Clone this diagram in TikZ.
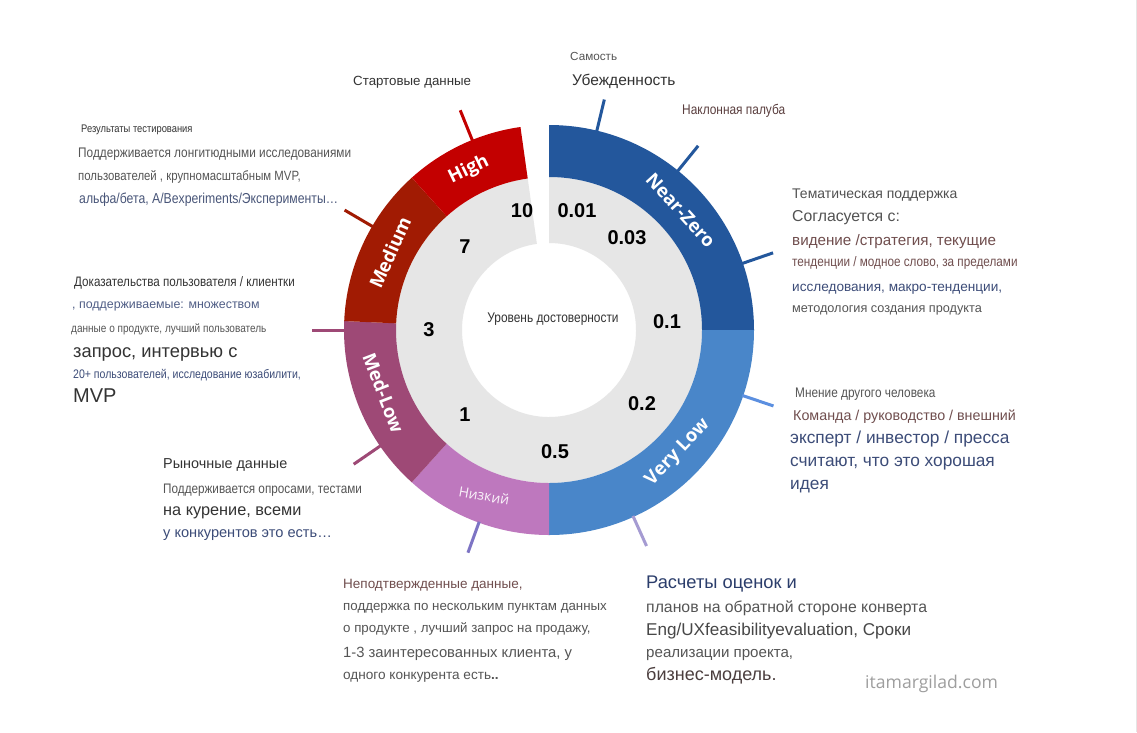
\documentclass[tikz,border=0pt]{standalone}
\usepackage{fontspec}
\setmainfont{Liberation Sans}
\newfontfamily\cond[FakeStretch=0.85]{Liberation Sans}
\newfontfamily\opensans{Open Sans}
\usepackage{xcolor}
\definecolor{SegNearZero}{RGB}{35,87,156}
\definecolor{SegVeryLow}{RGB}{73,134,201}
\definecolor{SegLow}{RGB}{190,120,190}
\definecolor{SegMedLow}{RGB}{158,73,118}
\definecolor{SegMedium}{RGB}{161,27,3}
\definecolor{SegHigh}{RGB}{195,0,0}
\definecolor{RingGray}{RGB}{230,230,230}
\definecolor{TickBlue}{RGB}{91,143,224}
\definecolor{TickLilac}{RGB}{165,155,210}
\definecolor{TickViolet}{RGB}{125,116,196}
\definecolor{TxtDark}{RGB}{51,51,51}
\definecolor{TxtGray}{RGB}{85,85,85}
\definecolor{TxtBrown}{RGB}{112,78,78}
\definecolor{TxtBlue}{RGB}{60,76,120}
\definecolor{TxtNavy}{RGB}{43,61,107}
\definecolor{EdgeGray}{RGB}{229,229,229}
\usepackage{tikz}
\usetikzlibrary{calc}
\newcommand{\fsz}[1]{\fontsize{#1}{#1}\selectfont}
\tikzset{
  % Plain text line, placed on its baseline
  txt/.style={anchor=base west, inner sep=0pt, font=\fsz{#1}},
  % Condensed text line
  ctxt/.style={anchor=base west, inner sep=0pt, font=\cond\fsz{#1}},
  % Label on a colored ring segment
  seglabel/.style={text=white, inner sep=0pt, font=\opensans\bfseries\fsz{18.5}},
  % Score in the gray ring
  score/.style={inner sep=0pt, font=\bfseries\fsz{20}},
  % Radial tick
  tickmark/.style={line width=3pt},
}

\begin{document}
\begin{tikzpicture}[x=1pt, y=-1pt]

  \useasboundingbox (0,0) rectangle (1137,732);
  \fill[white] (0,0) rectangle (1137,732);
  \draw[EdgeGray, line width=1pt] (1136,0) -- (1136,732);

  %% ---- RING ----
  \begin{scope}[shift={(549,330)}, yscale=-1]
    \fill[RingGray] (98:87) arc[start angle=98, end angle=450, radius=87]
      -- (450:153) arc[start angle=450, end angle=98, radius=153] -- cycle;
    \foreach \a/\b/\c in {0/90/SegNearZero, -90/0/SegVeryLow, -132/-90/SegLow,
                          -182.5/-132/SegMedLow, -228/-182.5/SegMedium, -262/-228/SegHigh}{
      \fill[\c] (\a:153) arc[start angle=\a, end angle=\b, radius=153]
        -- (\b:205) arc[start angle=\b, end angle=\a, radius=205] -- cycle;
    }
    %% ticks
    \foreach \ang/\c in {76.5/SegNearZero, 51/SegNearZero, 19/SegNearZero,
                         -18.7/TickBlue, -65.7/TickLilac, -110/TickViolet,
                         -145.5/SegMedLow, 180/SegMedLow, 149.6/SegMedium, 112/SegHigh}{
      \draw[tickmark, \c] (\ang:204) -- (\ang:237);
    }
    %% segment labels
    \node[seglabel, rotate=-47.7] (nearzero) at (42.3:178) {Near-Zero};
    \node[seglabel, rotate=46.4] (verylow) at (-43.6:178) {Very Low};
    \node[seglabel, font=\opensans\fsz{14}, text=white!90!SegLow, rotate=-10] (low) at (-111.4:178) {Низкий};
    \node[seglabel, rotate=-69] (medlow) at (-159.2:177) {Med-Low};
    \node[seglabel, rotate=66] (medium) at (154:177) {Medium};
    \node[seglabel, rotate=26] (high) at (116.6:179) {High};
  \end{scope}

  %% ---- SCORES ----
  \node[score] (s10) at (522,211) {10};
  \node[score] (s001) at (577,211) {0.01};
  \node[score] (s003) at (627,238) {0.03};
  \node[score] (s7) at (465,247) {7};
  \node[score] (s3) at (429,330) {3};
  \node[score] (s01) at (667,322) {0.1};
  \node[score] (s02) at (642,404) {0.2};
  \node[score] (s1) at (465,415) {1};
  \node[score] (s05) at (555,452) {0.5};
  \node[inner sep=0pt, font=\cond\fsz{14}, text=TxtDark] (center) at (553,319) {Уровень достоверности};

  %% ---- TOP ----
  \node[ctxt=11, text=TxtDark] (test1) at (81,132) {Результаты тестирования};
  \node[ctxt=13.9, text=TxtGray] (test2) at (78,157) {Поддерживается лонгитюдными исследованиями};
  \node[ctxt=13.4, text=TxtGray] (test3) at (78,180) {пользователей , крупномасштабным MVP,};
  \node[ctxt=14.4, text=TxtBlue!80!gray] (test4) at (79,203) {альфа/бета, A/Bexperiments/Эксперименты…};
  \node[txt=13.3, text=TxtDark] (start) at (353,85) {Стартовые данные};
  \node[txt=11.7, text=TxtGray] (self) at (570,60) {Самость};
  \node[txt=15.5, text=TxtDark] (convict) at (572,85) {Убежденность};
  \node[ctxt=14, text=TxtBrown!80!black] (deck) at (682,114) {Наклонная палуба};

  %% ---- RIGHT ----
  \node[txt=14, text=TxtDark!85!white] (them1) at (792,198) {Тематическая поддержка};
  \node[txt=15.8, text=TxtDark!85!white] (them2) at (792,221) {Согласуется с:};
  \node[txt=15.2, text=TxtBrown] (them3) at (792,245) {видение /стратегия, текущие};
  \node[ctxt=13.8, text=TxtBrown] (them4) at (792,266) {тенденции / модное слово, за пределами};
  \node[txt=13.6, text=TxtBlue] (them5) at (792,291) {исследования, макро-тенденции,};
  \node[txt=12.7, text=TxtGray] (them6) at (792,312) {методология создания продукта};
  \node[ctxt=13.9, text=TxtGray] (other1) at (795,397) {Мнение другого человека};
  \node[txt=14.3, text=TxtBrown] (other2) at (793,420) {Команда / руководство / внешний};
  \node[txt=17.3, text=TxtBlue] (other3) at (790,443) {эксперт / инвестор / пресса};
  \node[txt=17.3, text=TxtBlue] (other4) at (790,466) {считают, что это хорошая};
  \node[txt=17.3, text=TxtBlue] (other5) at (790,489) {идея};

  %% ---- LEFT ----
  \node[ctxt=13.7, text=TxtDark] (user1) at (74,286) {Доказательства пользователя / клиентки};
  \node[txt=12.4, text=TxtBlue!90!white] (user2) at (72,308) {, поддерживаемые: множеством};
  \node[ctxt=11.8, text=TxtGray] (user3) at (71,332) {данные о продукте, лучший пользователь};
  \node[txt=18.3, text=TxtDark] (user4) at (73,357) {запрос, интервью с};
  \node[ctxt=12.4, text=TxtBlue] (user5) at (73,378) {20+ пользователей, исследование юзабилити,};
  \node[txt=20, text=TxtDark] (user6) at (73,402) {MVP};
  \node[txt=14.4, text=TxtDark] (market1) at (163,468) {Рыночные данные};
  \node[ctxt=13.8, text=TxtGray] (market2) at (163,493) {Поддерживается опросами, тестами};
  \node[txt=16.3, text=TxtDark] (market3) at (163,515) {на курение, всеми};
  \node[txt=14.6, text=TxtBlue] (market4) at (163,537) {у конкурентов это есть…};

  %% ---- BOTTOM ----
  \node[txt=13.5, text=TxtBrown] (anec1) at (343,588) {Неподтвержденные данные,};
  \node[txt=13.3, text=TxtGray] (anec2) at (343,610) {поддержка по нескольким пунктам данных};
  \node[txt=13.3, text=TxtGray] (anec3) at (343,632) {о продукте , лучший запрос на продажу,};
  \node[txt=14.8, text=TxtGray] (anec4) at (343,657) {1-3 заинтересованных клиента, у};
  \node[txt=13.6, text=TxtGray] (anec5) at (343,679) {одного конкурента есть\textbf{..}};
  \node[txt=18.3, text=TxtNavy] (est1) at (646,588) {Расчеты оценок и};
  \node[txt=15.8, text=TxtGray] (est2) at (646,612) {планов на обратной стороне конверта};
  \node[txt=17.1, text=TxtDark!90!white] (est3) at (646,635) {Eng/UXfeasibilityevaluation, Сроки};
  \node[txt=15.1, text=TxtGray] (est4) at (646,657) {реализации проекта,};
  \node[txt=18, text=TxtDark!60!TxtBrown] (est5) at (646,680) {бизнес-модель.};
  \node[anchor=base west, inner sep=0pt, font=\opensans\fsz{17.6}, text=black!38] (site) at (865,688) {itamargilad.com};

\end{tikzpicture}
\end{document}
